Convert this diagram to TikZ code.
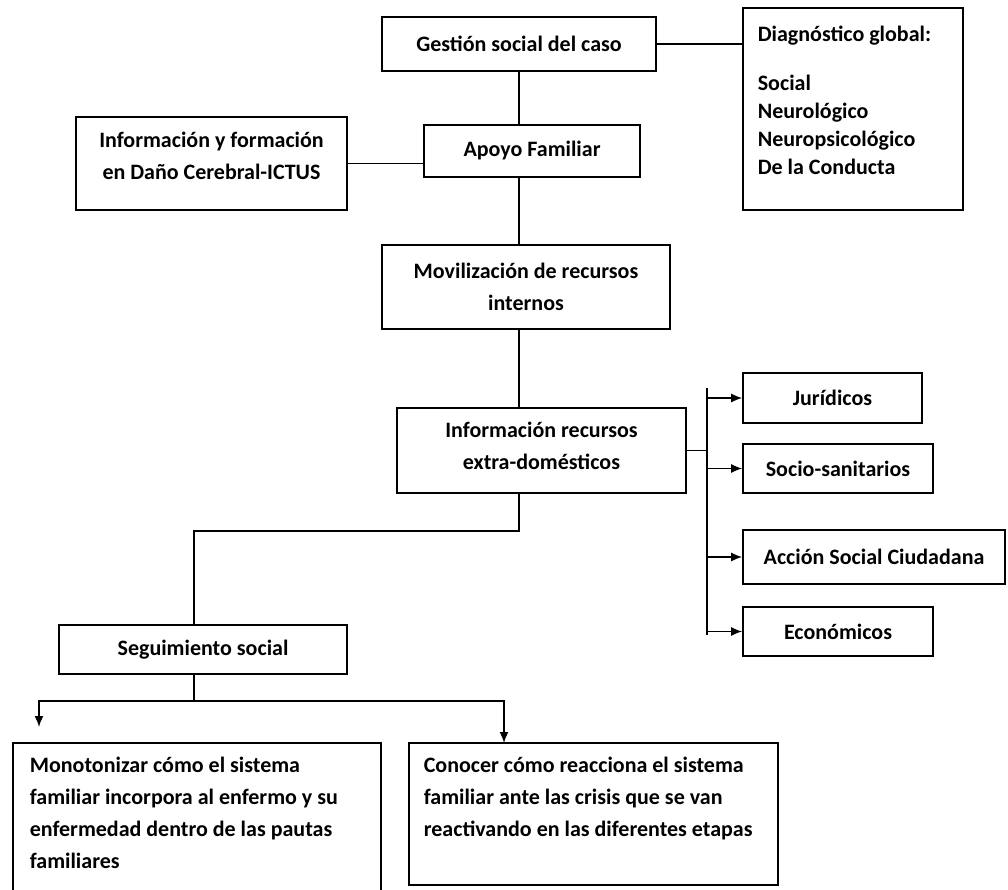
\documentclass[tikz,border=0pt]{standalone}
\usepackage{fontspec}
\setmainfont{Carlito}
\usetikzlibrary{arrows.meta}

\begin{document}
\begin{tikzpicture}[x=1pt, y=-1pt, line width=1.6pt, >={Latex[length=11pt,width=9pt]},
    box/.style={draw, align=center, inner sep=0pt},
    txt/.style={align=left, inner sep=0pt, anchor=north west},
    font=\bfseries\fontsize{22}{32}\selectfont]
    \useasboundingbox (0,0) rectangle (1008,890);
    \clip (0,0) rectangle (1008,890);
    \node[box, minimum width=274pt, minimum height=54pt] (gestion) at (519,44) {Gestión social del caso};
    \node[box, minimum width=220pt, minimum height=202pt] (diag) at (853,109) {};
    \node[txt, font=\bfseries\fontsize{22}{28}\selectfont] (diagtxt) at (757,25) {Diagnóstico global:\\[21pt] Social\\ Neurológico\\ Neuropsicológico\\ De la Conducta};
    \node[box, minimum width=216pt, minimum height=52pt] (apoyo) at (532,151) {Apoyo Familiar};
    \node[box, minimum width=271pt, minimum height=93pt] (info) at (211.5,163.5) {Información y formación\\ en Daño Cerebral-ICTUS\\[-16pt]};
    \node[box, minimum width=288pt, minimum height=84pt] (movil) at (526,287) {Movilización de recursos\\ internos};
    \node[box, minimum width=289pt, minimum height=85pt] (recursos) at (541.5,450.5) {Información recursos\\ extra-domésticos\\[-22pt]};
    \node[box, minimum width=179pt, minimum height=50pt] (juridicos) at (832.5,398) {Jurídicos};
    \node[box, minimum width=190pt, minimum height=49pt] (socio) at (838,468.5) {Socio-sanitarios};
    \node[box, minimum width=262pt, minimum height=54pt] (accion) at (874,557) {Acción Social Ciudadana};
    \node[box, minimum width=190pt, minimum height=49pt] (economicos) at (838,631.5) {Económicos};
    \node[box, minimum width=288pt, minimum height=49pt] (seguimiento) at (203,649.5) {Seguimiento social};
    \node[box, minimum width=368pt, minimum height=152pt] (monotonizar) at (197,819) {};
    \node[txt] (monotxt) at (29,756) {Monotonizar cómo el sistema\\ familiar incorpora al enfermo y su\\ enfermedad dentro de las pautas\\ familiares};
    \node[box, minimum width=369pt, minimum height=142pt] (conocer) at (593.5,814) {};
    \node[txt] (conotxt) at (423,756) {Conocer cómo reacciona el sistema\\ familiar ante las crisis que se van\\ reactivando en las diferentes etapas};
    \coordinate (trunk) at (519,0);
    \coordinate (branch) at (194,0);
    \coordinate (bus) at (707,388);
    \coordinate (busend) at (707,635);
    \coordinate (monoend) at (39,727);
    \coordinate (conoend) at (504,743);
    \draw (gestion.east) -- (gestion.east -| diag.west);
    \draw (gestion.south) -- (gestion.south |- apoyo.north);
    \draw (info.east) -- (info.east -| apoyo.west);
    \draw (trunk |- apoyo.south) -- (trunk |- movil.north);
    \draw (trunk |- movil.south) -- (trunk |- recursos.north);
    \draw (recursos.east) -- (recursos.east -| bus);
    \draw (bus) -- (busend);
    \foreach \n in {juridicos,socio,accion,economicos}
        \draw[->] (bus |- \n.west) -- (\n.west);
    \draw (trunk |- recursos.south) -- ++(0,37) -| (branch |- seguimiento.north);
    \draw (branch |- seguimiento.south) -- ++(0,26) coordinate (split);
    \draw[->] (split) -| (monoend);
    \draw[->] (split) -| (conoend);
\end{tikzpicture}
\end{document}
